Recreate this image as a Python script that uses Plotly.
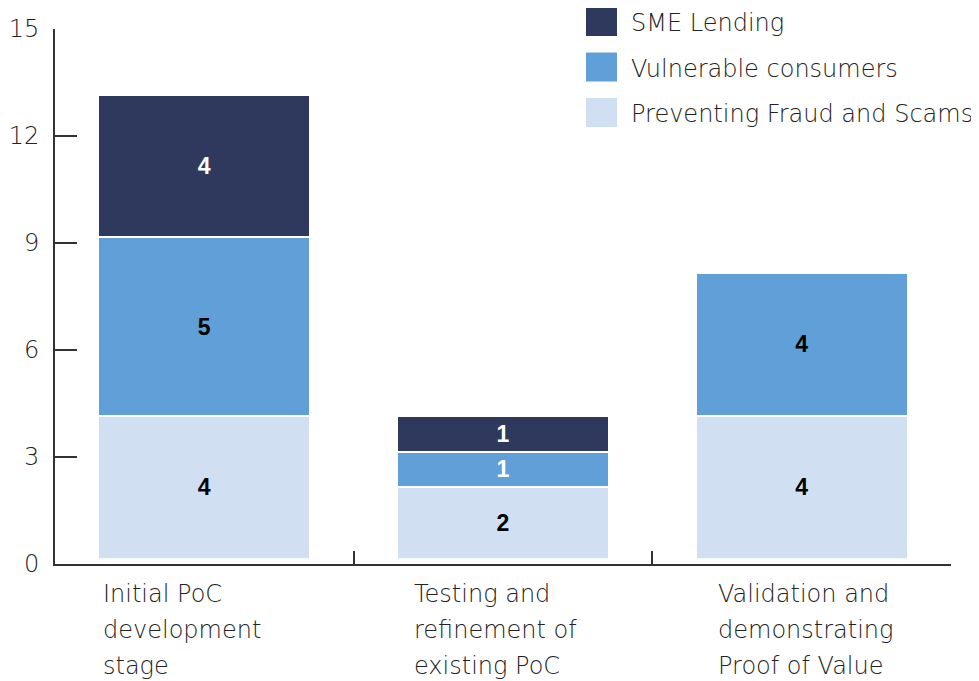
import plotly.graph_objects as go

# ---- data ----
categories = ["Initial PoC development stage",
              "Testing and refinement of existing PoC",
              "Validation and demonstrating Proof of Value"]
category_lines = [["Initial PoC", "development", "stage"],
                  ["Testing and", "refinement of", "existing PoC"],
                  ["Validation and", "demonstrating", "Proof of Value"]]
series_names = ["Preventing Fraud and Scams", "Vulnerable consumers", "SME Lending"]
fraud_values = [4, 2, 4]
vulnerable_values = [5, 1, 4]
sme_values = [4, 1, None]
y_ticks = [0, 3, 6, 9, 12, 15]

# ---- styles ----
colors = ["#D0DFF1", "#609FD7", "#2F395E"]
label_colors = [["#000000", "#000000", "#000000"],
                ["#000000", "#FFFFFF", "#000000"],
                ["#FFFFFF", "#FFFFFF", "#FFFFFF"]]
FONT = "DejaVu Sans"
FW = 200
FS = 24
TXT = "#222222"
AX = "#333333"
W, H = 979, 681
OFF = 8            # page body margin
ML, MR = 47, 36
PW = W - ML - MR


def fx(sx):
    return (sx - OFF - ML) / PW


def fy(sy):
    return (H - (sy - OFF)) / H


fig = go.Figure()
for name, vals, col, lc in zip(series_names,
                               [fraud_values, vulnerable_values, sme_values],
                               colors, label_colors):
    fig.add_trace(go.Bar(
        x=categories, y=vals, name=name,
        marker=dict(color=col, line=dict(color="white", width=2)),
        text=[("" if v is None else str(v)) for v in vals],
        textposition="inside", insidetextanchor="middle", textangle=0,
        constraintext="none",
        textfont=dict(family="Liberation Sans", size=23, color=lc, weight="bold"),
        showlegend=False, hoverinfo="skip",
        xaxis="x", yaxis="y",
    ))

# invisible trace that carries the visible value axis
fig.add_trace(go.Scatter(x=categories, y=[None, None, None], xaxis="x", yaxis="y2",
                         showlegend=False, hoverinfo="skip", mode="markers"))

fig.update_layout(
    width=W, height=H,
    margin=dict(l=ML, r=MR, t=0, b=0, autoexpand=False),
    paper_bgcolor="white", plot_bgcolor="rgba(0,0,0,0)",
    barmode="stack", bargap=0.29,
    font=dict(family=FONT, size=FS, color=TXT, weight=FW),
    xaxis=dict(type="category", range=[-0.5, 2.5], anchor="y2",
               tickson="boundaries", ticks="inside", ticklen=13, tickwidth=2,
               tickcolor=AX, showline=True, linewidth=2, linecolor=AX,
               showticklabels=False, showgrid=False, zeroline=False),
    yaxis=dict(domain=[fy(558.7), fy(23.2)], range=[0, 15], visible=False,
               showgrid=False, zeroline=False),
    yaxis2=dict(domain=[fy(564), fy(28.5)], range=[0, 15], anchor="x",
                tickvals=y_ticks, ticks="inside", ticklen=22, tickwidth=2,
                tickcolor=AX, showline=True, linewidth=2, linecolor=AX,
                showgrid=False, zeroline=False, ticklabelstandoff=9,
                tickfont=dict(family=FONT, size=FS, color=TXT, weight=FW)),
)

# category labels (left aligned, multi-line)
x_shifts = [-103, -91, -86]
LINE_GAP = 36
for cat, lines, xs in zip(categories, category_lines, x_shifts):
    for j, line in enumerate(lines):
        fig.add_annotation(x=cat, xref="x", y=fy(578), yref="paper",
                           text=line, showarrow=False,
                           xanchor="left", yanchor="top", align="left",
                           xshift=xs, yshift=-j * LINE_GAP,
                           font=dict(family=FONT, size=FS, color=TXT, weight=FW))

# legend (top right)
legend_order = [2, 1, 0]
ROW = 45.5
for row, idx in enumerate(legend_order):
    top = 7 + row * ROW
    fig.add_shape(type="rect", xref="paper", yref="paper",
                  x0=fx(586), x1=fx(617), y0=fy(top + 29), y1=fy(top),
                  fillcolor=colors[idx], line=dict(width=0))
    fig.add_annotation(x=fx(629), y=fy(top + 16), xref="paper", yref="paper",
                       text=series_names[idx], showarrow=False,
                       xanchor="left", yanchor="middle",
                       font=dict(family=FONT, size=FS, color=TXT, weight=FW))

fig.write_html("out.html")
